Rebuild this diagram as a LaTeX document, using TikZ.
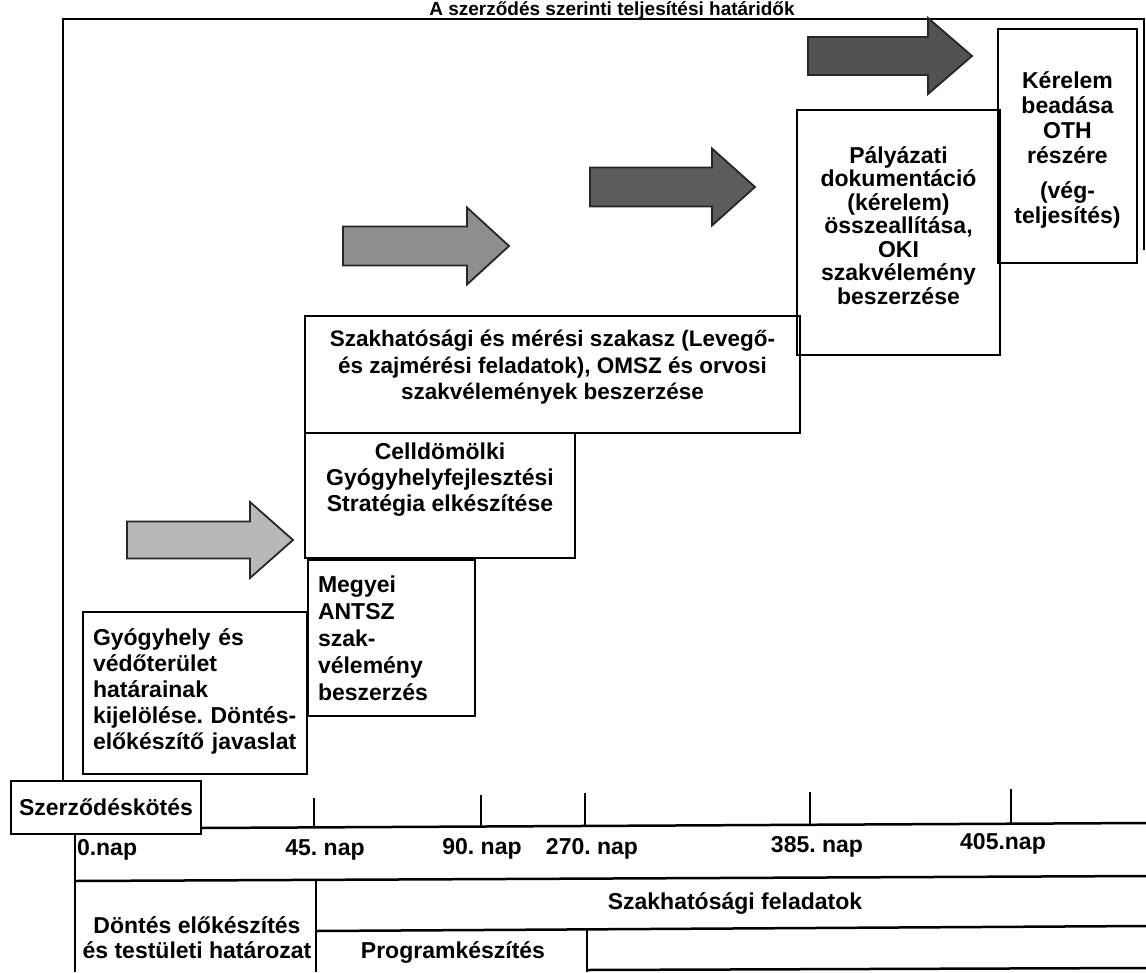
\documentclass[tikz,border=0pt]{standalone}
\usepackage{fontspec}
\setmainfont{Liberation Sans}
\frenchspacing
\newcommand\bxf{\fontsize{23}{26}\selectfont\bfseries}
\definecolor{arrA}{HTML}{B8B8B8}
\definecolor{arrB}{HTML}{8E8E8E}
\definecolor{arrC}{HTML}{5C5C5C}
\definecolor{arrD}{HTML}{525252}
\tikzset{
  every node/.style={inner sep=0pt, outer sep=0pt},
  box/.style={draw=black, line width=2.7pt, anchor=north west},
  txt/.style={font=\bxf, align=center, text=black},
  ltxt/.style={font=\bxf, align=left, text=black},
  rule/.style={line width=2.5pt, draw=black},
  tickline/.style={line width=2.2pt, draw=black},
  arr/.style={draw=black!85, line width=1.8pt, line join=miter},
}
\newcommand\garrow[7]{\draw[arr, fill=#7] (#1,#4-#5) -- (#2,#4-#5) -- (#2,#4-#6) -- (#3,#4) -- (#2,#4+#6) -- (#2,#4+#5) -- (#1,#4+#5) -- cycle;}
\begin{document}
\begin{tikzpicture}[x=1pt,y=-1pt]
\useasboundingbox (0,0) rectangle (1146,972);
% title
\node[font=\fontsize{19}{22}\selectfont\bfseries, anchor=base] (title) at (612,15) {A szerződés szerinti teljesítési határidők};
% outer frame
\coordinate (f1) at (63,781);
\coordinate (f2) at (63,19);
\coordinate (f3) at (1144,19);
\coordinate (f4) at (1144,250);
\draw[rule, line width=2.8pt] (f1) -- (f2) -- (f3) -- (f4);
% arrows
\garrow{127}{250}{293}{540}{18.5}{38}{arrA}
\garrow{343}{467}{509}{246}{19.5}{38.5}{arrB}
\garrow{590}{712}{755}{187}{19.5}{38.5}{arrC}
\garrow{808}{928}{972}{56}{19}{38}{arrD}
% step boxes
\node[box, minimum width=224pt, minimum height=162pt] (gy) at (83,612) {};
\node[ltxt, text width=212pt, anchor=west, font=\fontsize{23}{26}\selectfont\bfseries] (gyT) at ([xshift=10pt,yshift=2pt]gy.west) {Gyógyhely és\\védőterület\\határainak\\kijelölése. Döntés-\\előkészítő javaslat};
\node[box, minimum width=167pt, minimum height=156pt] (me) at (308,560) {};
\node[ltxt, text width=150pt, anchor=west, font=\fontsize{23}{27}\selectfont\bfseries] (meT) at ([xshift=10pt]me.west) {Megyei\\ANTSZ\\szak-\\vélemény\\beszerzés};
\node[box, minimum width=270pt, minimum height=125pt] (ce) at (305,433) {};
\node[txt] (ceT) at ([yshift=16pt]ce.center) {Celldömölki\\Gyógyhelyfejlesztési\\Stratégia elkészítése};
\node[box, minimum width=495pt, minimum height=117pt] (sz) at (305,316) {};
\node[txt, font=\fontsize{22.5}{26.5}\selectfont\bfseries] (szT) at ([yshift=7pt]sz.center) {Szakhatósági és mérési szakasz (Levegő-\\és zajmérési feladatok), OMSZ és orvosi\\szakvélemények beszerzése};
\node[box, minimum width=203pt, minimum height=245pt] (pa) at (797,110) {};
\node[txt, font=\fontsize{23}{23.5}\selectfont\bfseries] (paT) at ([yshift=7pt]pa.center) {Pályázati\\dokumentáció\\(kérelem)\\összeallítása,\\OKI\\szakvélemény\\beszerzése};
\node[box, minimum width=139pt, minimum height=234pt] (ke) at (998,29) {};
\node[txt, font=\fontsize{23}{25}\selectfont\bfseries] (keT) at ([yshift=-4pt]ke.center) {Kérelem\\beadása\\OTH\\részére\\[10pt](vég-\\teljesítés)};
% timeline
\node[box, txt, minimum width=190pt, minimum height=53pt] (szk) at (11,781) {Szerződéskötés};
\coordinate (axL) at (201,828);
\coordinate (axR) at (1146,823);
\draw[rule] (axL) -- (axR);
\foreach \x/\t/\b in {314/798/827, 481/795/826, 585/793/826, 810/792/825, 1011/789/824}
  \draw[tickline] (\x,\t) -- (\x,\b);
\node[font=\bxf, anchor=west] (d0) at (77,850) {0.nap};
\node[font=\bxf] (d45) at (325,850) {45. nap};
\node[font=\bxf] (d90) at (482,849) {90. nap};
\node[font=\bxf] (d270) at (592,849) {270. nap};
\node[font=\bxf] (d385) at (817,847) {385. nap};
\node[font=\bxf] (d405) at (1003,844) {405.nap};
% bottom table
\coordinate (t1) at (75,834);
\coordinate (t2) at (75,972);
\draw[rule] (t1) -- (t2);
\coordinate (h1L) at (75,881);
\coordinate (h1R) at (1146,876);
\draw[rule] (h1L) -- (h1R);
\coordinate (v1T) at (316,880);
\coordinate (v1B) at (316,972);
\draw[rule] (v1T) -- (v1B);
\coordinate (h2L) at (316,931);
\coordinate (h2R) at (1146,926);
\draw[rule] (h2L) -- (h2R);
\coordinate (v2T) at (587,930);
\coordinate (v2B) at (587,972);
\draw[rule] (v2T) -- (v2B);
\coordinate (h3L) at (587,970);
\coordinate (h3R) at (1146,968);
\draw[rule] (h3L) -- (h3R);
\node[txt, font=\fontsize{23}{25}\selectfont\bfseries] (dont) at (197,938) {Döntés előkészítés\\és testületi határozat};
\node[font=\bxf] (szf) at (735,903) {Szakhatósági feladatok};
\node[font=\bxf] (prog) at (453,952) {Programkészítés};
\end{tikzpicture}
\end{document}
